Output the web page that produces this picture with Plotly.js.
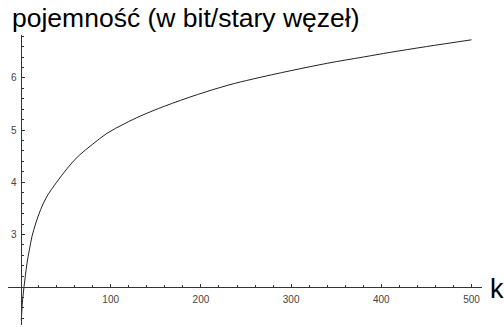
<!DOCTYPE html>
<html>
<head>
<meta charset="utf-8">
<script src="https://cdn.plot.ly/plotly-3.0.1.min.js"></script>
<style>html,body{margin:0;padding:0;background:#fff;}#chart{width:504px;height:327px;}</style>
</head>
<body>
<div id="chart"></div>
<script>
// values
var kValues = [0.9, 1.5, 2.5, 3.9, 5.5, 7.2, 10, 12.7, 17, 22.4, 29, 40, 52, 64, 80, 96, 115, 133, 160, 196, 230, 258, 300, 340, 380, 410, 450, 500];
var capacity = [1.35, 1.55, 1.78, 2.0, 2.22, 2.45, 2.72, 2.96, 3.22, 3.48, 3.72, 4.0, 4.27, 4.5, 4.73, 4.94, 5.12, 5.27, 5.46, 5.68, 5.86, 5.98, 6.14, 6.28, 6.4, 6.49, 6.6, 6.73];
var xTickVals = [100, 200, 300, 400, 500];
var xTickText = ['100', '200', '300', '400', '500'];
var yTickVals = [3, 4, 5, 6];
var yTickText = ['3', '4', '5', '6'];
var xMinorVals = [20, 40, 60, 80, 120, 140, 160, 180, 220, 240, 260, 280, 320, 340, 360, 380, 420, 440, 460, 480];
var yMinorVals = [1.4, 1.6, 1.8, 2.2, 2.4, 2.6, 2.8, 3.2, 3.4, 3.6, 3.8, 4.2, 4.4, 4.6, 4.8, 5.2, 5.4, 5.6, 5.8, 6.2, 6.4, 6.6, 6.8];
var titleText = 'pojemność (w bit/stary węzeł)';
var xLabel = 'k';

var xr = [-13.86, 511.6];
var yr = [1.266, 6.822];
var axisColor = '#333';
var tickFont = {family: 'Liberation Sans, Arial, sans-serif', size: 10, color: '#444'};

var trace = {
  x: kValues, y: capacity, type: 'scatter', mode: 'lines',
  line: {color: '#222', width: 1, shape: 'spline', smoothing: 1},
  hoverinfo: 'skip'
};

var layout = {
  width: 504, height: 327,
  margin: {l: 8, r: 22, t: 35, b: 2, pad: 0},
  paper_bgcolor: '#fff', plot_bgcolor: '#fff',
  showlegend: false,
  title: {
    text: titleText,
    font: {family: 'Liberation Sans, Arial, sans-serif', size: 26.5, color: '#000'},
    x: 12/504, xanchor: 'left', xref: 'container',
    y: 1 - 18/327, yanchor: 'middle', yref: 'container'
  },
  xaxis: {
    range: xr, anchor: 'free', position: (2 - yr[0]) / (yr[1] - yr[0]),
    showline: true, linecolor: axisColor, linewidth: 1,
    showgrid: false, zeroline: false,
    tickmode: 'array', tickvals: xTickVals, ticktext: xTickText,
    ticks: 'inside', ticklen: 3, tickcolor: axisColor, tickwidth: 1,
    tickfont: tickFont, ticklabelstandoff: 3,
    minor: {tickmode: 'array', tickvals: xMinorVals, ticks: 'inside', ticklen: 2, tickcolor: axisColor, showgrid: false}
  },
  yaxis: {
    range: yr, anchor: 'free', position: -xr[0] / (xr[1] - xr[0]),
    showline: true, linecolor: axisColor, linewidth: 1,
    showgrid: false, zeroline: false,
    tickmode: 'array', tickvals: yTickVals, ticktext: yTickText,
    ticks: 'inside', ticklen: 3, tickcolor: axisColor, tickwidth: 1,
    tickfont: tickFont, ticklabelstandoff: 2,
    minor: {tickmode: 'array', tickvals: yMinorVals, ticks: 'inside', ticklen: 2, tickcolor: axisColor, showgrid: false}
  },
  annotations: [{
    text: xLabel, xref: 'paper', yref: 'paper',
    x: (488 - 8) / 474, y: (325 - 289) / 290,
    xanchor: 'left', yanchor: 'middle', showarrow: false,
    font: {family: 'Liberation Sans, Arial, sans-serif', size: 27, color: '#000'}
  }]
};

Plotly.newPlot('chart', [trace], layout, {staticPlot: true, displayModeBar: false});
</script>
</body>
</html>
